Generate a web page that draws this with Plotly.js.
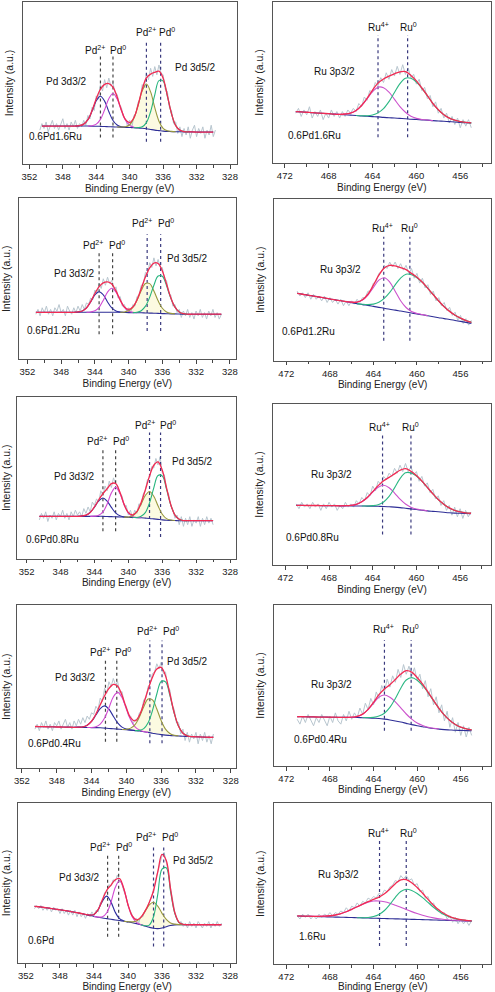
<!DOCTYPE html>
<html><head><meta charset="utf-8">
<script src="https://cdn.plot.ly/plotly-3.0.1.min.js"></script>
<style>html,body{margin:0;padding:0;background:#fff}#chart{width:495px;height:992px}</style>
</head><body><div id="chart"></div>
<script>
// ---------------- DATA ----------------
const SAMPLES_PD = ['0.6Pd1.6Ru','0.6Pd1.2Ru','0.6Pd0.8Ru','0.6Pd0.4Ru','0.6Pd'];
const SAMPLES_RU = ['0.6Pd1.6Ru','0.6Pd1.2Ru','0.6Pd0.8Ru','0.6Pd0.4Ru','1.6Ru'];
const PD_SPECIES = ['Pd<sup>2+</sup>','Pd<sup>0</sup>','Pd<sup>2+</sup>','Pd<sup>0</sup>'];
const RU_SPECIES = ['Ru<sup>4+</sup>','Ru<sup>0</sup>'];
const PD_REGIONS = ['Pd 3d3/2','Pd 3d5/2'];
const RU_REGIONS = ['Ru 3p3/2'];
const PD_TICKS = [352,348,344,340,336,332,328];
const RU_TICKS = [472,468,464,460,456];

const PD_FIT_X = [351,350.5,350,349.5,349,348.5,348,347.5,347,346.5,346,345.5,345,344.5,344,343.5,343,342.5,342,341.5,341,340.5,340,339.5,339,338.5,338,337.5,337,336.5,336,335.5,335,334.5,334,333.5,333,332.5,332,331.5,331,330.5,330,329.5,329];
const PD_RAW_X = [351,350.75,350.5,350.25,350,349.75,349.5,349.25,349,348.75,348.5,348.25,348,347.75,347.5,347.25,347,346.75,346.5,346.25,346,345.75,345.5,345.25,345,344.75,344.5,344.25,344,343.75,343.5,343.25,343,342.75,342.5,342.25,342,341.75,341.5,341.25,341,340.75,340.5,340.25,340,339.75,339.5,339.25,339,338.75,338.5,338.25,338,337.75,337.5,337.25,337,336.75,336.5,336.25,336,335.75,335.5,335.25,335,334.75,334.5,334.25,334,333.75,333.5,333.25,333,332.75,332.5,332.25,332,331.75,331.5,331.25,331,330.75,330.5,330.25,330,329.75,329.5,329.25,329];
const RU_FIT_X = [471,470.5,470,469.5,469,468.5,468,467.5,467,466.5,466,465.5,465,464.5,464,463.5,463,462.5,462,461.5,461,460.5,460,459.5,459,458.5,458,457.5,457,456.5,456,455.5,455];
const RU_RAW_X = [471,470.75,470.5,470.25,470,469.75,469.5,469.25,469,468.75,468.5,468.25,468,467.75,467.5,467.25,467,466.75,466.5,466.25,466,465.75,465.5,465.25,465,464.75,464.5,464.25,464,463.75,463.5,463.25,463,462.75,462.5,462.25,462,461.75,461.5,461.25,461,460.75,460.5,460.25,460,459.75,459.5,459.25,459,458.75,458.5,458.25,458,457.75,457.5,457.25,457,456.75,456.5,456.25,456,455.75,455.5,455.25,455];

// Pd 3d, 0.6Pd1.6Ru
const P1_BG = [null,23.5,23.5,23.5,23.5,23.5,23.5,23.5,23.5,23.5,23.5,23.5,23.5,23.4,23.4,23.3,23.2,23.1,23.0,22.9,22.8,22.7,22.6,22.5,22.3,22.1,21.8,21.4,21.0,20.7,20.4,20.2,20.1,20.0,20.0,19.9,19.9,19.9,19.8,19.8,19.8,19.8,19.8,null,null];
const P1_PD2_32 = [0,0,0,0,0, 0,0,0,0,0, 0.2,1.2,3.9,9.3,15.6,18.5,15.6,9.3,3.9,1.2,0.2];
const P1_PD0_32 = [0,0,0,0,0, 0,0,0,0,0, 0,0,0, 0.3,1.3,4.3,10.3,17.2,20.5,17.2,10.3,4.3,1.3,0.3];
const P1_PD2_52 = [0,0,0,0,0, 0,0,0,0,0, 0,0,0,0,0, 0,0,0,0,0, 0.1,0.4,1.7,5.8,13.8,23.1,27.5,23.1,13.8,5.8,1.7,0.4,0.1];
const P1_PD0_52 = [0,0,0,0,0, 0,0,0,0,0, 0,0,0,0,0, 0,0,0,0,0, 0,0,0,0, 0.2,1.0,3.8,10.9,21.7,30.7,30.7,21.7,10.9,3.8,1.0,0.2];
const P1_RAW = [null,
21,25,22,26,20,24,27,22,25,21,
24,28,22,25,21,26,23,27,22,25,
23,27,24,30,28,35,33,42,40,49,
45,52,47,53,48,50,44,43,37,35,
29,28,23,27,22,30,31,38,40,49,
47,56,52,59,54,60,55,61,56,55,
46,45,35,33,25,26,19,23,17,22,
18,23,16,21,24,17,22,19,23,16,
21,18,24,17,21,
null,null,null];
const P1_PEAKS = [343.5,342.0,338.0,336.3];

// Pd 3d, 0.6Pd1.2Ru
const P2_BG = [29.2,29.2,29.2,29.2,29.2,29.2,29.2,29.2,29.2,29.2,29.2,29.2,29.2,29.2,29.2,29.2,29.2,29.2,29.2,29.2,29.2,29.1,29.0,29.0,28.9,28.9,28.8,28.7,28.6,28.5,28.4,28.3,28.2,28.2,28.1,28.0,28.0,28.0,28.0,28.0,28.0,28.0,28.0,28.0,28.0];
const P2_PD2_32 = [0,0,0,0,0, 0,0,0,0,0, 0.2,0.8,2.7,6.4,10.8,12.8,10.8,6.4,2.7,0.8,0.2];
const P2_PD0_32 = [0,0,0,0,0, 0,0,0,0,0, 0,0,0, 0.2,0.9,3.1,7.5,12.5,14.9,12.5,7.5,3.1,0.9,0.2];
const P2_PD2_52 = [0,0,0,0,0, 0,0,0,0,0, 0,0,0,0,0, 0,0,0,0,0, 0, 0.3,1.1,3.3,7.8,13.8,18.3,18.3,13.8,7.8,3.3,1.1,0.3];
const P2_PD0_52 = [0,0,0,0,0, 0,0,0,0,0, 0,0,0,0,0, 0,0,0,0,0, 0,0,0,0, 0.3,1.3,4.2,9.8,17.4,23.2,23.2,17.4,9.8,4.2,1.3,0.3];
const P2_RAW = [
28,31,27,32,29,33,28,31,27,32,
30,34,29,31,27,33,30,28,32,29,
33,30,34,31,35,34,38,37,43,41,
47,44,50,46,51,47,49,43,45,38,
39,33,34,30,32,29,34,33,39,40,
46,47,54,53,60,57,63,58,62,57,
57,50,49,41,40,33,34,29,31,26,
30,27,31,26,29,25,30,27,31,26,
29,25,30,27,31,26,29,25,28];
const P2_PEAKS = [343.5,341.9,337.8,336.2];

// Pd 3d, 0.6Pd0.8Ru
const P3_BG = [null,26.2,26.2,26.2,26.2,26.2,26.2,26.2,26.2,26.2,26.2,26.2,26.2,26.2,26.2,26.2,26.2,26.1,26.0,25.9,25.8,25.7,25.6,25.5,25.4,25.3,25.1,24.9,24.6,24.3,24.0,23.8,23.7,23.6,23.5,23.5,23.5,23.5,23.5,23.5,23.5,23.5,23.5,null,null];
const P3_PD2_32 = [0,0,0,0,0, 0,0,0,0,0, 0, 0.2,0.7,2.4,5.7,9.5,11.3,9.5,5.7,2.4,0.7,0.2];
const P3_PD0_32 = [0,0,0,0,0, 0,0,0,0,0, 0,0,0,0, 0.1,0.6,2.7,7.7,14.7,18.2,14.7,7.7,2.7,0.6,0.1];
const P3_PD2_52 = [0,0,0,0,0, 0,0,0,0,0, 0,0,0,0,0, 0,0,0,0,0, 0,0, 0.2,1.0,3.5,8.4,14.0,16.7,14.0,8.4,3.5,1.0,0.2];
const P3_PD0_52 = [0,0,0,0,0, 0,0,0,0,0, 0,0,0,0,0, 0,0,0,0,0, 0,0,0,0, 0.1,0.9,3.4,9.6,19.2,27.2,27.2,19.2,9.6,3.4,0.9,0.1];
const P3_RAW = [null,null,
24,28,25,29,23,27,25,29,24,28,
26,30,25,28,24,29,26,30,27,29,
26,31,28,32,29,35,33,37,35,42,
39,45,42,48,44,50,46,45,40,39,
33,33,27,30,25,30,28,34,33,40,
42,49,50,57,56,62,58,63,53,52,
43,40,33,30,25,27,21,26,20,25,
21,26,20,24,22,26,20,25,21,26,
22,25,21,
null,null,null,null];
const P3_PEAKS = [343.0,341.5,337.5,336.2];

// Pd 3d, 0.6Pd0.4Ru
const P4_BG = [null,25.6,25.5,25.5,25.4,25.4,25.3,25.3,25.2,25.2,25.1,25.1,25.0,25.0,24.9,24.9,24.8,24.6,24.4,24.2,24.0,23.8,23.6,23.4,23.1,22.8,22.4,22.0,21.5,21.0,20.6,20.3,20.1,19.9,19.8,19.6,19.5,19.4,19.3,19.2,19.1,19.0,19.0,null,null];
const P4_PD2_32 = [0,0,0,0,0, 0,0,0,0,0, 0, 0.1,0.4,1.4,3.8,7.7,11.8,13.6,11.8,7.7,3.8,1.4,0.4,0.1];
const P4_PD0_32 = [0,0,0,0,0, 0,0,0,0,0, 0,0,0,0, 0.1,0.6,2.3,6.2,12.7,19.5,22.5,19.5,12.7,6.2,2.3,0.6,0.1];
const P4_PD2_52 = [0,0,0,0,0, 0,0,0,0,0, 0,0,0,0,0, 0,0,0,0,0, 0,0, 0.3,1.2,3.7,8.6,15.3,20.4,20.4,15.3,8.6,3.7,1.2,0.3];
const P4_PD0_52 = [0,0,0,0,0, 0,0,0,0,0, 0,0,0,0,0, 0,0,0,0,0, 0,0,0,0,0, 0.4,1.9,5.9,13.8,24.5,32.6,32.6,24.5,13.8,5.9,1.9,0.4];
const P4_RAW = [null,null,
24,27,23,28,25,29,24,27,23,28,
26,29,24,27,30,25,28,24,29,26,
30,27,31,28,32,30,34,33,38,36,
43,41,49,46,53,50,55,51,53,46,
47,40,38,32,32,27,30,29,34,35,
42,43,50,52,58,59,64,61,65,58,
59,50,48,39,36,28,28,21,24,17,
22,16,21,18,22,15,21,17,22,16,
20,15,21,
null,null,null,null];
const P4_PEAKS = [342.4,341.1,337.3,335.9];

// Pd 3d, 0.6Pd
const P5_BG = [35.5,35.2,34.9,34.5,34.1,33.7,33.3,32.9,32.5,32.0,31.5,31.0,30.4,29.8,29.2,28.7,28.2,27.8,27.4,27.0,26.6,26.2,25.8,25.3,24.7,24.0,23.2,22.4,21.8,21.6,22.0,22.8,23.5,23.9,24.0,24.0,24.0,24.0,24.0,24.0,24.0,24.0,24.0,24.0,24.0];
const P5_PD2_32 = [0,0,0,0,0, 0,0,0,0,0, 0,0,0, 0.2,1.2,4.8,10.7,14.0,10.7,4.8,1.2,0.2];
const P5_PD0_32 = [0,0,0,0,0, 0,0,0,0,0, 0,0,0,0,0, 0.1,0.8,3.7,10.6,20.2,25.0,20.2,10.6,3.7,0.8,0.1];
const P5_PD2_52 = [0,0,0,0,0, 0,0,0,0,0, 0,0,0,0,0, 0,0,0,0,0, 0,0, 0.1,0.5,1.6,4.5,9.1,14.0,16.2,14.0,9.1,4.5,1.6,0.5,0.1];
const P5_PD0_52 = [0,0,0,0,0, 0,0,0,0,0, 0,0,0,0,0, 0,0,0,0,0, 0,0,0,0,0, 0, 0.2,1.4,7.2,21.3,36.7,36.7,21.3,7.2,1.4,0.2];
const P5_RAW = [
34,36,34,36,33,35,33,35,32,35,
33,34,31,34,31,33,30,33,30,33,
29,32,29,31,28,31,29,32,30,33,
32,38,38,44,44,49,48,52,51,55,
51,50,45,42,36,33,29,27,28,25,
29,29,33,34,38,42,45,52,57,63,
67,69,63,57,47,40,32,28,25,26,
23,25,22,26,23,25,22,26,24,22,
25,23,26,22,25,23,26,23,25];
const P5_PEAKS = [342.4,341.1,337.0,335.8];

// Ru 3p, 0.6Pd1.6Ru
const R1_BG = [32.0,31.8,31.6,31.3,31.1,30.9,30.7,30.4,30.2,30.0,29.8,29.6,29.3,29.1,28.9,28.7,28.4,28.2,28.0,27.8,27.6,27.3,27.1,26.9,26.7,26.4,26.2,26.0,25.8,25.6,25.3,25.1,24.9];
const R1_RU4 = [0,0,0,0,0, 0,0,0, 0.1,0.5,1.3,3.1,6.4,10.8,15.4,18.4,18.4,15.8,11.6,7.3,4.0,1.8,0.7,0.2,0.1];
const R1_RU0 = [0,0,0,0,0, 0,0,0,0,0, 0,0, 0.1,0.3,1.0,2.5,5.4,10.0,15.8,21.5,25.1,25.3,23.2,19.5,15.1,10.6,6.9,4.1,2.2,1.1,0.5,0.2,0.1];
const R1_RAW = [
31,34,29,33,30,35,28,32,29,33,
27,31,28,33,29,32,28,32,29,33,
31,34,32,37,35,41,39,45,44,50,
48,53,50,56,52,58,54,60,55,61,
55,59,53,55,49,52,45,47,40,42,
35,38,31,34,28,31,25,29,24,28,
22,27,23,27,22];
const R1_PEAKS = [463.5,460.8];

// Ru 3p, 0.6Pd1.2Ru
const R2_BG = [41.7,41.1,40.5,40.0,39.4,38.8,38.2,37.6,37.1,36.5,35.9,35.3,34.7,34.2,33.6,33.0,32.4,31.8,31.3,30.7,30.1,29.5,28.9,28.4,27.8,27.2,26.6,26.0,25.5,24.9,24.3,23.7,23.1];
const R2_RU4 = [0,0,0,0,0, 0,0,0,0,0, 0.3,0.9,2.8,6.4,11.7,16.8,18.9,16.8,11.7,6.4,2.8,0.9,0.3,0.1];
const R2_RU0 = [0,0,0,0,0, 0,0,0,0,0, 0,0, 0.2,0.5,1.4,3.1,6.1,10.4,15.6,20.4,23.4,23.6,22.4,20.0,16.9,13.6,10.3,7.4,5.0,3.2,2.0,1.1,0.6];
const R2_RAW = [
43,40,42,39,42,38,41,38,40,37,
40,36,39,36,38,35,38,34,37,34,
37,35,38,36,39,39,43,43,48,49,
54,55,59,57,61,58,61,57,60,56,
59,54,57,51,54,48,51,45,47,41,
43,37,39,34,36,31,33,28,30,25,
28,23,26,22,25];
const R2_PEAKS = [463.05,460.65];

// Ru 3p, 0.6Pd0.8Ru
const R3_BG = [37.1,37.1,37.0,37.0,37.0,36.9,36.9,36.9,36.8,36.8,36.8,36.7,36.7,36.6,36.6,36.5,36.4,36.2,36.0,35.7,35.3,34.9,34.5,34.1,33.7,33.4,33.1,32.8,32.5,32.3,32.2,32.1,32.0];
const R3_RU4 = [0,0,0,0,0, 0,0,0,0, 0.1,0.3,1.0,2.6,5.2,8.7,11.8,13.1,11.8,8.7,5.2,2.6,1.0,0.3,0.1];
const R3_RU0 = [0,0,0,0,0, 0,0,0,0,0, 0,0,0, 0.1,0.3,1.0,2.8,6.4,11.9,17.9,21.9,22.3,20.8,18.0,14.5,10.9,7.6,5.0,3.0,1.7,0.9,0.4,0.2];
const R3_RAW = [
38,35,39,36,38,35,39,36,38,34,
38,35,39,36,38,34,37,35,39,36,
38,36,40,38,42,40,45,43,49,46,
52,50,55,53,57,55,60,57,62,58,
63,58,61,56,58,52,55,49,51,45,
47,41,43,37,40,34,37,31,36,30,
35,29,34,30,33];
const R3_PEAKS = [463.1,460.5];

// Ru 3p, 0.6Pd0.4Ru
const R4_BG = [30.6,30.6,30.5,30.5,30.4,30.4,30.3,30.3,30.2,30.2,30.1,30.1,30.0,29.9,29.7,29.5,29.1,28.6,28.0,27.3,26.5,25.7,25.0,24.4,23.8,23.3,22.9,22.6,22.4,22.2,22.1,22.0,21.9];
const R4_RU4 = [0,0,0,0,0, 0,0,0,0,0, 0.2,0.7,2.2,5.1,9.3,13.3,15.0,14.1,11.8,8.8,5.8,3.4,1.7,0.8,0.3,0.1,0.04];
const R4_RU0 = [0,0,0,0,0, 0,0,0,0,0, 0,0,0, 0.2,0.5,1.5,3.7,7.8,13.9,21.0,26.9,29.2,28.3,25.6,21.8,17.3,12.9,9.0,5.9,3.6,2.0,1.1,0.6];
const R4_RAW = [
29,26,31,27,32,28,25,30,27,32,
28,25,31,27,33,28,26,32,28,34,
29,33,30,36,32,39,35,42,38,46,
42,50,46,54,49,56,52,60,55,63,
57,62,56,61,53,57,48,53,43,48,
38,43,33,38,28,34,24,30,21,27,
19,25,18,24,19];
const R4_PEAKS = [463.0,460.55];

// Ru 3p, 1.6Ru
const R5_BG = [29.9,29.8,29.7,29.6,29.5,29.4,29.3,29.2,29.1,29.0,28.9,28.8,28.7,28.6,28.5,28.4,28.3,28.2,28.1,28.0,27.9,27.8,27.7,27.6,27.5,27.4,27.3,27.2,27.1,27.0,26.9,26.8,26.7];
const R5_RU4 = [0, 0.01,0.03,0.08,0.17,0.37,0.71,1.3,2.2,3.5,5.1,6.8,8.5,9.9,10.7,10.8,10.4,9.6,8.5,7.3,6.0,4.8,3.7,2.7,1.9,1.3,0.84,0.53,0.32,0.18,0.11,0.06,0.03];
const R5_RU0 = [0,0,0,0,0, 0,0,0,0,0, 0,0, 0.1,0.3,1.0,2.4,5.0,8.9,13.4,17.1,18.6,18.0,16.2,13.7,10.8,7.9,5.4,3.5,2.1,1.2,0.6,0.3,0.1];
const R5_RAW = [
30,28,31,29,31,28,30,28,31,29,
31,30,32,30,32,31,33,32,35,33,
36,35,38,36,39,38,41,40,42,41,
44,43,46,45,48,49,52,51,55,53,
55,52,53,49,50,45,46,41,42,37,
38,34,34,31,32,28,30,26,29,25,
28,25,27,24,27];
const R5_PEAKS = [463.45,461.0];

// ---------------- LAYOUT CONFIG (positions only) ----------------
const W = 495, H = 992;
const FONT = 'Liberation Sans, Arial, Helvetica, sans-serif';
const COL = {raw:'rgb(184,198,207)', bg:'#2e2e96', pd2_32:'#2c2c9e', pd0_32:'#d24ad2', pd2_52:'#98983e', pd0_52:'#26b57e', ru4:'#cc52cc', ru0:'#2cb884', env:'#f22a52', fill:'rgba(252,250,222,0.9)', l32:'#444444', l52:'#3a3a7e'};

const PANELS = [
 {kind:'pd', name:SAMPLES_PD[0], box:[22.7,236.7,1.5,164.3], range:[352.8,327.2], bg:P1_BG, comps:[P1_PD2_32,P1_PD0_32,P1_PD2_52,P1_PD0_52], raw:P1_RAW, peaks:P1_PEAKS,
  sp:[[344.1,70.2],[341.35,70.2],[338.1,81.2],[335.5,81.2]], lineY:[[16.5,66.3],[13.9,76.5]], reg:[[347.65,50.6],[332.2,59.2]], nm:[348.9,17.3]},
 {kind:'ru', name:SAMPLES_RU[0], box:[272.7,491,1.7,163.3], range:[473.1,453.2], bg:R1_BG, comps:[R1_RU4,R1_RU0], raw:R1_RAW, peaks:R1_PEAKS,
  sp:[[463.5,84.5],[460.7,84.5]], lineY:[[16.1,79.4]], reg:[[467.5,56.7]], nm:[469.3,16.9]},
 {kind:'pd', name:SAMPLES_PD[1], box:[19,235.7,198.3,359.3], range:[353.0,327.3], bg:P2_BG, comps:[P2_PD2_32,P2_PD0_32,P2_PD2_52,P2_PD0_52], raw:P2_RAW, peaks:P2_PEAKS,
  sp:[[344.2,71.2],[341.4,71.2],[338.4,84.5],[335.6,84.5]], lineY:[[15.5,65.8],[17.6,77.6]], reg:[[346.5,53.4],[333.1,62.7]], nm:[348.9,17.6]},
 {kind:'ru', name:SAMPLES_RU[1], box:[274.3,491,199,360.7], range:[473.1,453.2], bg:R2_BG, comps:[R2_RU4,R2_RU0], raw:R2_RAW, peaks:R2_PEAKS,
  sp:[[463.15,81.9],[460.65,81.9]], lineY:[[12.4,76.7]], reg:[[467.0,56.7]], nm:[470.0,17.9]},
 {kind:'pd', name:SAMPLES_PD[2], box:[17.3,236,397,558.7], range:[353.1,327.3], bg:P3_BG, comps:[P3_PD2_32,P3_PD0_32,P3_PD2_52,P3_PD0_52], raw:P3_RAW, peaks:P3_PEAKS,
  sp:[[343.7,72.6],[340.9,72.6],[338.0,82.9],[335.3,82.9]], lineY:[[16.9,67.4],[13.4,78.1]], reg:[[346.4,50.9],[332.5,60.2]], nm:[348.9,11.8]},
 {kind:'ru', name:SAMPLES_RU[2], box:[273.3,490.7,403.7,565.3], range:[473.1,453.2], bg:R3_BG, comps:[R3_RU4,R3_RU0], raw:R3_RAW, peaks:R3_PEAKS,
  sp:[[463.35,85.6],[460.5,85.6]], lineY:[[19.0,81.2]], reg:[[467.8,56.1]], nm:[469.5,17.3]},
 {kind:'pd', name:SAMPLES_PD[3], box:[16.7,236,605,768.3], range:[352.6,327.4], bg:P4_BG, comps:[P4_PD2_32,P4_PD0_32,P4_PD2_52,P4_PD0_52], raw:P4_RAW, peaks:P4_PEAKS,
  sp:[[343.0,71.4],[340.4,71.4],[337.6,84.1],[334.9,84.1]], lineY:[[16.3,66.0],[15.3,78.2]], reg:[[345.9,55.7],[333.0,65.3]], nm:[348.2,14.9]},
 {kind:'ru', name:SAMPLES_RU[3], box:[274.3,491.3,605,766], range:[473.1,453.2], bg:R4_BG, comps:[R4_RU4,R4_RU0], raw:R4_RAW, peaks:R4_PEAKS,
  sp:[[463.1,84.9],[460.6,84.9]], lineY:[[21.9,78.3]], reg:[[467.9,50.9]], nm:[468.9,16.6]},
 {kind:'pd', name:SAMPLES_PD[4], box:[18.3,236,802.7,963.3], range:[352.9,327.3], bg:P5_BG, comps:[P5_PD2_32,P5_PD0_32,P5_PD2_52,P5_PD0_52], raw:P5_RAW, peaks:P5_PEAKS,
  sp:[[343.3,72.6],[340.5,72.6],[337.9,78.8],[335.1,78.8]], lineY:[[16.6,67.4],[10.4,73.7]], reg:[[345.8,53.5],[332.3,64.3]], nm:[350.2,14.1]},
 {kind:'ru', name:SAMPLES_RU[4], box:[274.3,491.3,803.3,964], range:[473.1,453.2], bg:R5_BG, comps:[R5_RU4,R5_RU0], raw:R5_RAW, peaks:R5_PEAKS,
  sp:[[463.5,81.7],[460.75,81.7]], lineY:[[11.2,77.2]], reg:[[467.2,55.4]], nm:[469.6,17.0]}
];

// ---------------- BUILD ----------------
const traces = [], annotations = [];
const layout = {width:W, height:H, margin:{l:0,r:0,t:0,b:0}, paper_bgcolor:'#fff', plot_bgcolor:'#fff', showlegend:false,
  font:{family:FONT, size:10, color:'#222'}, annotations};

PANELS.forEach((p, idx) => {
  const k = idx + 1, sfx = k === 1 ? '' : String(k);
  const xa = 'x' + sfx, ya = 'y' + sfx;
  const isPd = p.kind === 'pd';
  const fitX = isPd ? PD_FIT_X : RU_FIT_X, rawX = isPd ? PD_RAW_X : RU_RAW_X;
  const n = fitX.length;
  const v = (a, i) => (a[i] === undefined ? 0 : a[i]);
  const base = {type:'scatter', mode:'lines', xaxis:xa, yaxis:ya, hoverinfo:'skip', showlegend:false};
  const win = c => { let f = -1, l = -1; for (let i = 0; i < n; i++) { if (v(c, i) > 0.05) { if (f < 0) f = i; l = i; } } return [Math.max(0, f - 1), Math.min(n - 1, l + 1)]; };
  const compXY = c => { const [s, e] = win(c); const xs = [], ys = [], bs = []; for (let i = s; i <= e; i++) { if (p.bg[i] == null) continue; xs.push(fitX[i]); ys.push(p.bg[i] + v(c, i)); bs.push(p.bg[i]); } return {xs, ys, bs}; };

  // pale fill under Pd2+ 3d5/2
  if (isPd) {
    const f = compXY(p.comps[2]);
    traces.push(Object.assign({}, base, {x:f.xs, y:f.bs, line:{width:0, shape:'spline', color:'rgba(0,0,0,0)'}}));
    traces.push(Object.assign({}, base, {x:f.xs, y:f.ys, line:{width:0, shape:'spline', color:'rgba(0,0,0,0)'}, fill:'tonexty', fillcolor:COL.fill}));
  }
  // raw data
  traces.push(Object.assign({}, base, {x:rawX, y:p.raw, line:{color:COL.raw, width:1}}));
  // dotted reference lines
  p.peaks.forEach((e, i) => {
    const ly = isPd ? p.lineY[i < 2 ? 0 : 1] : p.lineY[0];
    const col = isPd && i < 2 ? COL.l32 : COL.l52;
    traces.push(Object.assign({}, base, {x:[e, e], y:ly, line:{color:col, width:1.2, dash:'dot'}}));
  });
  // background
  traces.push(Object.assign({}, base, {x:fitX, y:p.bg, line:{color:COL.bg, width:1.1, shape:'spline'}}));
  // components
  const ccols = isPd ? [COL.pd2_32, COL.pd0_32, COL.pd2_52, COL.pd0_52] : [COL.ru4, COL.ru0];
  p.comps.forEach((c, i) => { const d = compXY(c); traces.push(Object.assign({}, base, {x:d.xs, y:d.ys, line:{color:ccols[i], width:1.1, shape:'spline'}})); });
  // envelope
  const env = p.bg.map((b, i) => b == null ? null : b + p.comps.reduce((s, c) => s + v(c, i), 0));
  traces.push(Object.assign({}, base, {x:fitX, y:env, line:{color:COL.env, width:1.3, shape:'spline'}}));

  // axes
  const ticks = isPd ? PD_TICKS : RU_TICKS;
  layout['xaxis' + sfx] = {domain:[p.box[0] / W, p.box[1] / W], range:p.range, anchor:ya, tickmode:'array', tickvals:ticks, ticktext:ticks.map(String),
    ticks:'outside', ticklen:3.5, tickwidth:1, tickcolor:'#444', minor:{tickmode:'linear', tick0:0, dtick:2, ticks:'outside', ticklen:2.5, tickcolor:'#444'},
    showline:true, linecolor:'#555', linewidth:1, mirror:true, showgrid:false, zeroline:false, fixedrange:true,
    tickfont:{size:9.5, color:'#222', family:FONT}, title:{text:'Binding Energy (eV)', font:{size:10, color:'#222', family:FONT}, standoff:3}};
  layout['yaxis' + sfx] = {domain:[1 - p.box[3] / H, 1 - p.box[2] / H], range:[0, 100], anchor:xa, showticklabels:false, ticks:'',
    showline:true, linecolor:'#555', linewidth:1, mirror:true, showgrid:false, zeroline:false, fixedrange:true,
    title:{text:'Intensity (a.u.)', font:{size:10.5, color:'#222', family:FONT}, standoff:6}};

  // labels
  const spTxt = isPd ? PD_SPECIES : RU_SPECIES;
  p.sp.forEach((s, i) => annotations.push({xref:xa, yref:ya, x:s[0], y:s[1], text:spTxt[i], showarrow:false, xanchor:'center', yanchor:'middle', font:{size:10, color:'#111'}}));
  const rgTxt = isPd ? PD_REGIONS : RU_REGIONS;
  p.reg.forEach((s, i) => annotations.push({xref:xa, yref:ya, x:s[0], y:s[1], text:rgTxt[i], showarrow:false, xanchor:'center', yanchor:'middle', font:{size:10, color:'#111'}}));
  annotations.push({xref:xa, yref:ya, x:p.nm[0], y:p.nm[1], text:p.name, showarrow:false, xanchor:'center', yanchor:'middle', font:{size:10, color:'#111'}});
});

Plotly.newPlot('chart', traces, layout, {displayModeBar:false, staticPlot:true});
</script>
</body></html>
